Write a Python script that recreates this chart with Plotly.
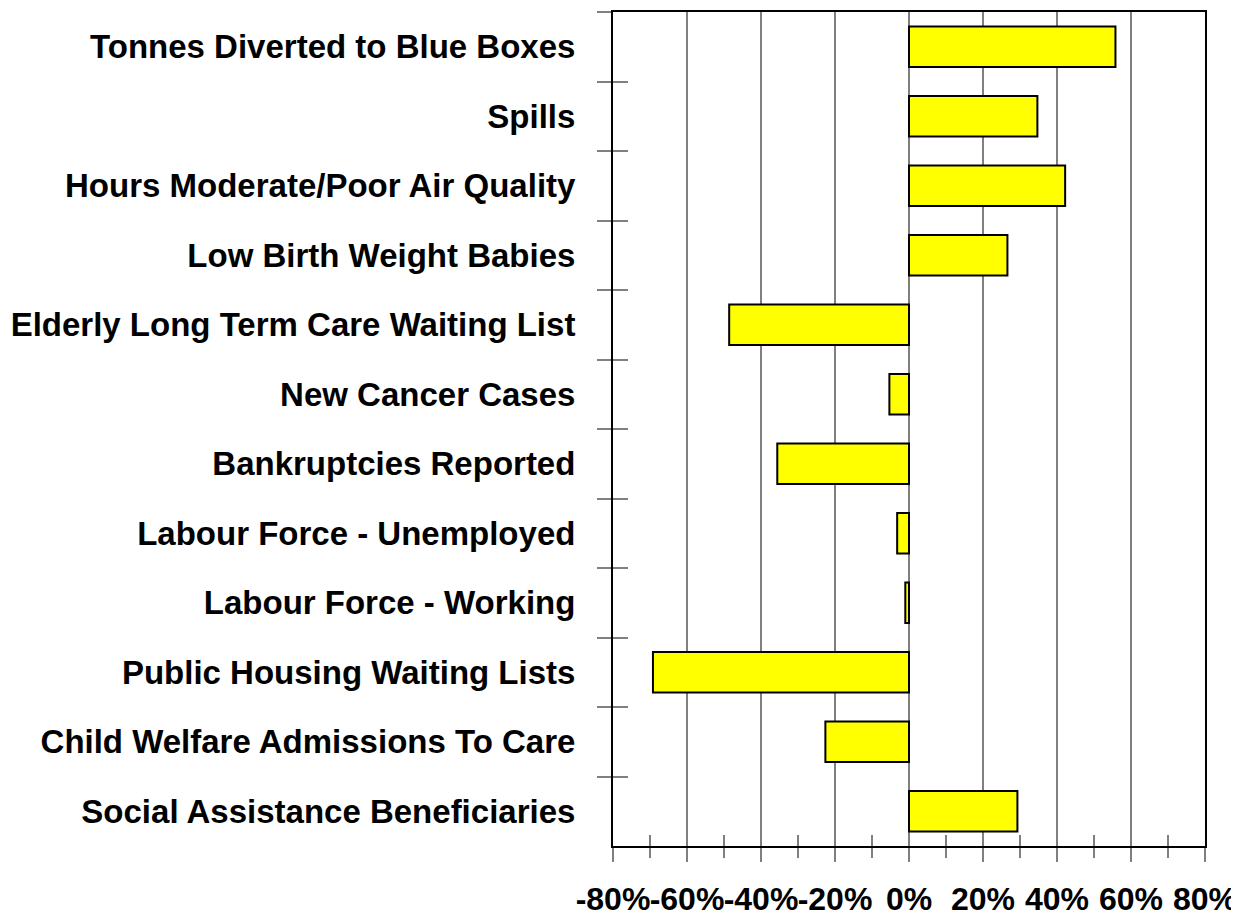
import plotly.graph_objects as go

categories = [
    "Tonnes Diverted to Blue Boxes",
    "Spills",
    "Hours Moderate/Poor Air Quality",
    "Low Birth Weight Babies",
    "Elderly Long Term Care Waiting List",
    "New Cancer Cases",
    "Bankruptcies Reported",
    "Labour Force - Unemployed",
    "Labour Force - Working",
    "Public Housing Waiting Lists",
    "Child Welfare Admissions To Care",
    "Social Assistance Beneficiaries",
]
pct_change = [55.8, 34.7, 42.2, 26.6, -48.6, -5.3, -35.6, -3.2, -1.0, -69.2, -22.6, 29.3]

x_tickvals = [-80, -60, -40, -20, 0, 20, 40, 60, 80]
x_ticktext = ["-80%", "-60%", "-40%", "-20%", "0%", "20%", "40%", "60%", "80%"]
x_minorvals = [-70, -50, -30, -10, 10, 30, 50, 70]

FONT = "Liberation Sans, Arial, sans-serif"
GRAY = "#808080"

fig = go.Figure()
fig.add_trace(go.Bar(
    x=pct_change, y=categories, orientation="h",
    marker=dict(color="#FFFF00", line=dict(color="black", width=2)),
    hoverinfo="x+y", showlegend=False,
))
# helper invisible trace for secondary axes (inside tick marks)
n = len(categories)
fig.add_trace(go.Scatter(
    x=pct_change, y=list(range(n)), xaxis="x2", yaxis="y2",
    mode="markers", marker=dict(opacity=0), hoverinfo="skip", showlegend=False,
))

fig.update_layout(
    width=1231, height=911,
    margin=dict(l=605, r=33, t=2, b=71),
    paper_bgcolor="white", plot_bgcolor="white",
    bargap=0.42,
    xaxis=dict(
        range=[-80, 80], tickvals=x_tickvals, ticktext=x_ticktext,
        tickangle=0,
        showgrid=True, gridcolor=GRAY, gridwidth=2,
        zeroline=False,
        showline=True, linecolor="black", linewidth=2, mirror=True,
        ticks="outside", ticklen=14, tickcolor=GRAY, tickwidth=2,
        minor=dict(tickvals=x_minorvals, ticks="outside", ticklen=10,
                   tickcolor=GRAY, tickwidth=2, showgrid=False),
        tickfont=dict(family=FONT, size=32, color="black", weight="bold"),
        ticklabelstandoff=10, ticklabeloverflow="allow",
    ),
    yaxis=dict(
        type="category", categoryorder="array", categoryarray=categories,
        autorange="reversed",
        showgrid=False, zeroline=False,
        showline=True, linecolor="black", linewidth=2, mirror=True,
        ticks="outside", tickson="boundaries", ticklen=14,
        tickcolor=GRAY, tickwidth=2,
        tickfont=dict(family=FONT, size=33, color="black", weight="bold"),
        ticklabelstandoff=29,
    ),
    xaxis2=dict(
        overlaying="x", anchor="y2", side="bottom", range=[-80, 80],
        tickvals=x_minorvals, ticks="inside", ticklen=11, tickcolor=GRAY,
        tickwidth=2, showticklabels=False, showgrid=False, zeroline=False,
        showline=False,
    ),
    yaxis2=dict(
        overlaying="y", anchor="x2", side="left",
        range=[n - 0.5, -0.5],
        tickvals=[i - 0.5 for i in range(n + 1)], ticks="inside", ticklen=15,
        tickcolor=GRAY, tickwidth=2, showticklabels=False, showgrid=False,
        zeroline=False, showline=False,
    ),
)

fig.write_html("out.html")
